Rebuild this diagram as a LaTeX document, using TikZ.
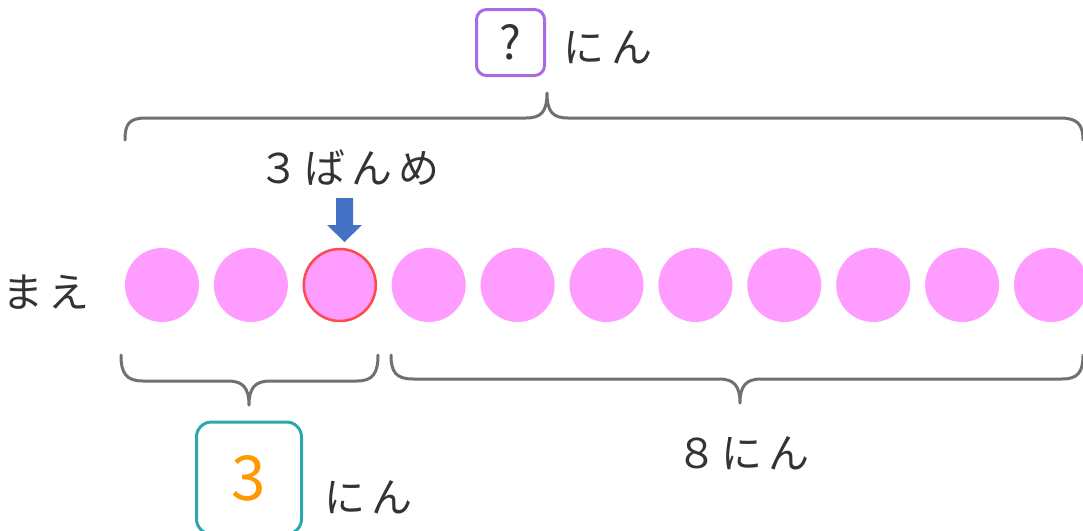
\documentclass[tikz,border=0pt]{standalone}
\usepackage{fontspec}
\newfontfamily\jp{Noto Sans CJK JP}
\definecolor{txt}{HTML}{333333}
\definecolor{pinkc}{HTML}{FF9CFF}
\definecolor{redc}{HTML}{FF4A4A}
\definecolor{bluec}{HTML}{4472C4}
\definecolor{bracec}{HTML}{707070}
\definecolor{purplec}{HTML}{A86BE8}
\definecolor{tealc}{HTML}{2AA8AC}
\definecolor{orangec}{HTML}{FF9900}
\begin{document}
\begin{tikzpicture}[x=1pt,y=-1pt,
  ball/.style={circle,fill=pinkc,minimum size=74pt,inner sep=0pt},
  lbl/.style={text=txt,font=\jp\fontsize{41}{43}\selectfont,inner sep=0pt},
  brace/.style={draw=bracec,line width=3pt,line cap=round,line join=round}]
\useasboundingbox (0,0) rectangle (1083,530);
% balls
\foreach \i in {1,...,11}{
  \node[ball] (c\i) at ({162+(\i-1)*88.9},285) {};
}
\node[ball,draw=redc,line width=2.5pt,minimum size=72pt] (c3r) at (c3) {};
% arrow
\coordinate (at) at (344.5,242);
\fill[bluec] (336,198) -- (353,198) -- (353,225) -- (362,225) -- (at) -- (327,225) -- (336,225) -- cycle;
% labels
\node[lbl] (ban) at (349,168) {３\hspace{5pt}ば\hspace{6pt}ん\hspace{6pt}め};
\node[lbl] (mae) at (46,292) {ま\hspace{6pt}え};
% top box
\node[draw=purplec,line width=3pt,rounded corners=10pt,minimum width=68pt,minimum height=66pt,inner sep=0pt,text=txt,font=\jp\fontsize{46}{48}\selectfont] (q) at (510.5,42.5) {?};
\node[lbl,anchor=west] (nin1) at (563,47) {に\hspace{7pt}ん};
% bottom box
\node[draw=tealc,line width=3pt,rounded corners=15pt,minimum width=105pt,minimum height=112pt,inner sep=0pt,text=orangec,font=\jp\fontsize{62}{64}\selectfont] (three) at (249,478) {3};
\node[lbl,anchor=west] (nin2) at (324,497) {に\hspace{6pt}ん};
\node[lbl] (eight) at (743,453) {８\hspace{5pt}に\hspace{6pt}ん};
% top brace
\coordinate (tt) at (547,93);
\draw[brace] (125,140) .. controls (125,124) and (129,118) .. (146,118) -- (526,118) .. controls (541,118) and (547,112) .. (tt) .. controls (547,112) and (553,118) .. (568,118) -- (1060,118) .. controls (1077,118) and (1083,124) .. (1083,140);
% bottom left brace
\coordinate (bl) at (249,405);
\draw[brace] (121,355) .. controls (121,373) and (126,381) .. (143,381) -- (228,381) .. controls (243,381) and (249,388) .. (bl) .. controls (249,388) and (255,381) .. (270,381) -- (357,381) .. controls (373,381) and (378,373) .. (378,355);
% bottom right brace
\coordinate (br) at (740,403);
\draw[brace] (391,355) .. controls (391,372) and (396,379) .. (413,379) -- (719,379) .. controls (734,379) and (740,386) .. (br) .. controls (740,386) and (746,379) .. (761,379) -- (1062,379) .. controls (1078,379) and (1083,372) .. (1083,355);
\end{tikzpicture}
\end{document}
